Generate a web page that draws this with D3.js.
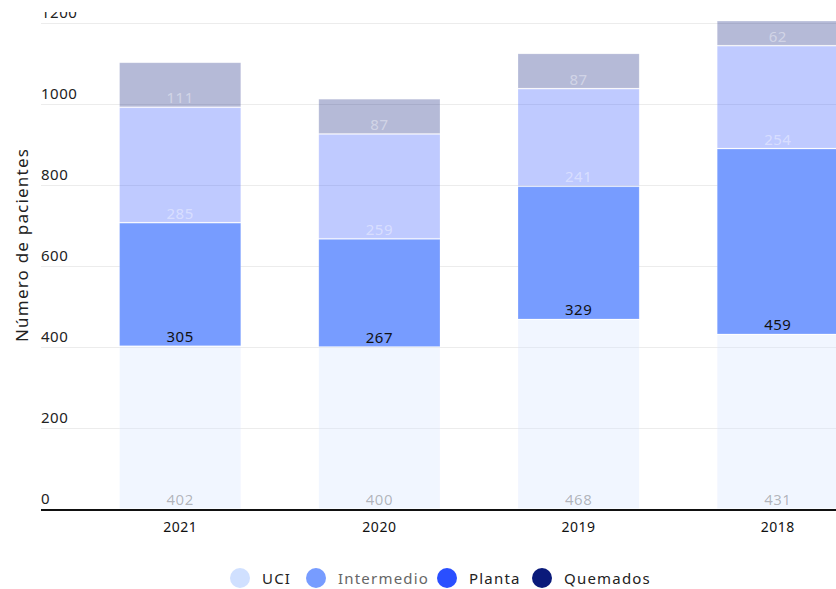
<!DOCTYPE html>
<html>
<head>
<meta charset="utf-8">
<script src="https://cdn.jsdelivr.net/npm/d3@7"></script>
<style>
  body { margin: 0; background: #fff; overflow: hidden; }
  text { font-family: "Noto Sans", sans-serif; letter-spacing: 0.5px; }
</style>
</head>
<body>
<div id="chart_container"></div>
<script>
height = 589
width = 836

margin = ({top: 23, right: 0, bottom: 80, left: 41})

// data
const years = ["2021", "2020", "2019", "2018"]
const seriesNames = ["UCI", "Intermedio", "Planta", "Quemados"]
const uci = [402, 400, 468, 431]
const intermedio = [305, 267, 329, 459]
const planta = [285, 259, 241, 254]
const quemados = [111, 87, 87, 62]
const yTicks = [0, 200, 400, 600, 800, 1000, 1200]

const colors = ["#d0e0ff", "#779cff", "#2a4fff", "#0a1a7a"]
const highlighted = "Intermedio"

let rows = years.map((y, i) => ({
  year: y, UCI: uci[i], Intermedio: intermedio[i], Planta: planta[i], Quemados: quemados[i]
}))

let stack = d3.stack().keys(seriesNames)(rows)

let x = d3.scaleBand()
  .domain(years)
  .range([margin.left + 1, 916])
  .padding(0.387)

let y = d3.scaleLinear()
  .domain([0, 1200])
  .range([509, margin.top])

const svg = d3.select('#chart_container').append('svg')
  .attr('width', width)
  .attr('height', height)

// gridlines
svg.append('g')
  .selectAll('line')
  .data(yTicks)
  .enter()
  .append('line')
  .attr('x1', margin.left)
  .attr('x2', width)
  .attr('y1', d => y(d) + 0.5)
  .attr('y2', d => y(d) + 0.5)
  .attr('stroke', '#ececec')
  .attr('stroke-width', 1)

// y tick labels
svg.append('g')
  .selectAll('text')
  .data(yTicks)
  .enter()
  .append('text')
  .attr('x', margin.left)
  .attr('y', d => y(d) - 5)
  .attr('font-size', 15)
  .attr('fill', '#222')
  .text(d => d)

// bars
let layers = svg.append('g')
  .selectAll('g')
  .data(stack)
  .enter()
  .append('g')
  .attr('fill', (d, i) => colors[i])
  .attr('fill-opacity', d => d.key == highlighted ? 1 : 0.3)

layers.selectAll('rect')
  .data(d => d)
  .enter()
  .append('rect')
  .attr('x', d => x(d.data.year) + 0.5)
  .attr('width', x.bandwidth() - 1)
  .attr('y', d => y(d[1]) + 0.5)
  .attr('height', d => y(d[0]) - y(d[1]) - 1)
  .attr('stroke', '#fff')
  .attr('stroke-opacity', 0.15)
  .attr('stroke-width', 1)

// value labels, sitting at the bottom of each segment
layers.each(function(layer, i) {
  let dark = i < 2
  d3.select(this).selectAll('text')
    .data(layer)
    .enter()
    .append('text')
    .attr('x', d => x(d.data.year) + x.bandwidth() / 2)
    .attr('y', d => y(d[0]) - 4)
    .attr('text-anchor', 'middle')
    .attr('font-size', 15)
    .attr('fill', dark ? '#111' : '#fff')
    .attr('fill-opacity', layer.key == highlighted ? 1 : (dark ? 0.3 : 0.4))
    .text(d => d.data[layer.key])
})

// baseline
svg.append('line')
  .attr('x1', margin.left)
  .attr('x2', width)
  .attr('y1', 510)
  .attr('y2', 510)
  .attr('stroke', '#111')
  .attr('stroke-width', 2)

// x labels
svg.append('g')
  .selectAll('text')
  .data(years)
  .enter()
  .append('text')
  .attr('x', d => x(d) + x.bandwidth() / 2)
  .attr('y', 532)
  .attr('text-anchor', 'middle')
  .attr('font-size', 14)
  .attr('fill', '#111')
  .text(d => d)

// y title
svg.append('text')
  .attr('transform', 'translate(28,245) rotate(-90)')
  .attr('text-anchor', 'middle')
  .attr('font-size', 17)
  .style('letter-spacing', '1.2px')
  .attr('fill', '#222')
  .text('Número de pacientes')

// legend
const legendX = [240, 316, 447, 542]
let legend = svg.append('g')
  .selectAll('g')
  .data(seriesNames)
  .enter()
  .append('g')
  .attr('transform', (d, i) => `translate(${legendX[i]},578)`)

legend.append('circle')
  .attr('r', 10)
  .attr('fill', (d, i) => colors[i])

legend.append('text')
  .attr('x', 22)
  .attr('y', 5.5)
  .attr('font-size', 15)
  .style('letter-spacing', '1.2px')
  .attr('fill', d => d == highlighted ? '#666' : '#222')
  .text(d => d)

// top of the picture is cut off
svg.append('rect')
  .attr('x', 0)
  .attr('y', 0)
  .attr('width', width)
  .attr('height', 12)
  .attr('fill', '#fff')
</script>
</body>
</html>
